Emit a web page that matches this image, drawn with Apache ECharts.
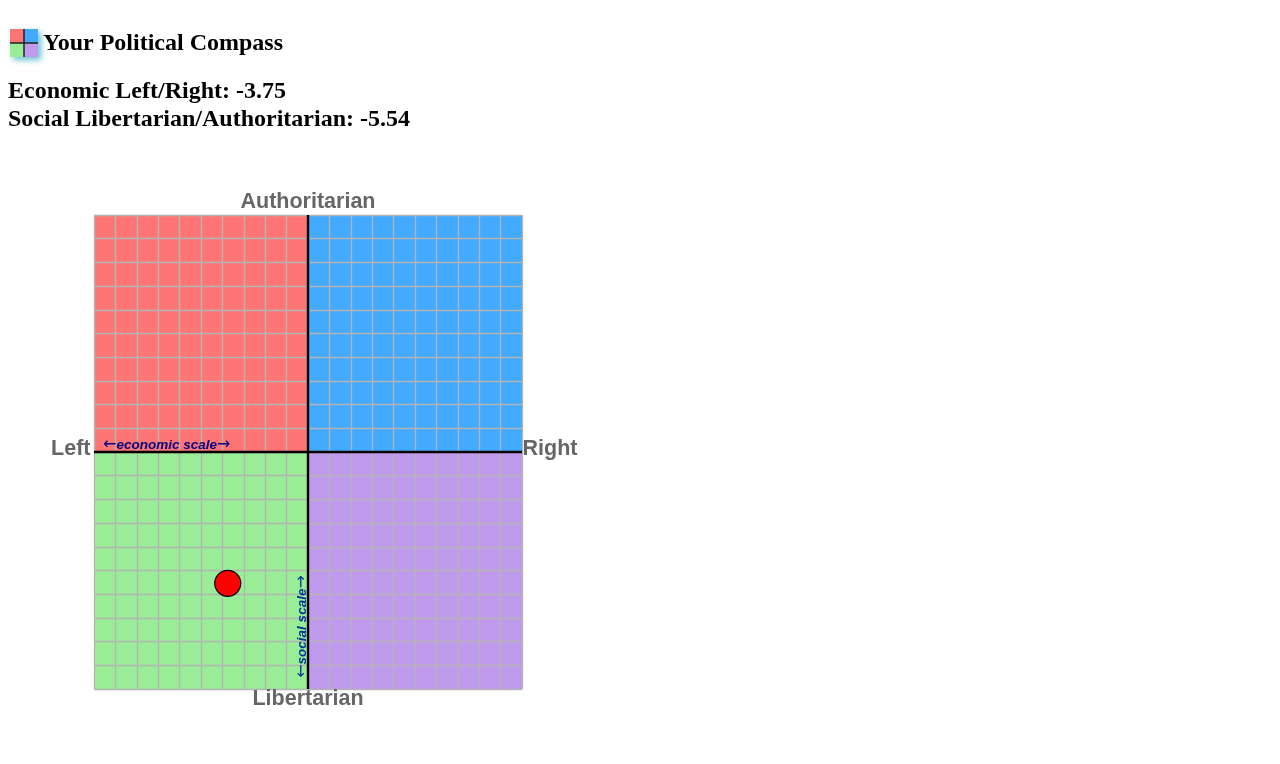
<!DOCTYPE html>
<html>
<head>
<meta charset="utf-8">
<style>
  html, body { margin: 0; padding: 0; background: #fff; }
  #chart { width: 1280px; height: 764px; }
</style>
<script src="https://cdn.jsdelivr.net/npm/echarts@6/dist/echarts.min.js"></script>
</head>
<body>
<div id="chart"></div>
<script>
// Compass scores
const economicScore = -3.75;
const socialScore = -5.54;

// Axis range and tick step
const axisMin = -10;
const axisMax = 10;
const axisStep = 1;

// Quadrants: [xFrom, yFrom, xTo, yTo, fill]
const quadrants = [
  [-10, 0, 0, 10, '#ff7575'],
  [0, 0, 10, 10, '#42aaff'],
  [-10, -10, 0, 0, '#9aed97'],
  [0, -10, 10, 0, '#c09aec']
];

// Text
const pageTitle = 'Your Political Compass';
const economicLine = 'Economic Left/Right: ' + economicScore;
const socialLine = 'Social Libertarian/Authoritarian: ' + socialScore;
const axisEnds = { top: 'Authoritarian', bottom: 'Libertarian', left: 'Left', right: 'Right' };
const scaleCaptions = { economic: 'economic scale', social: 'social scale' };
const arrowLeft = '←';
const arrowRight = '→';

const serif = '"Liberation Serif", "Times New Roman", serif';
const sans = '"Liberation Sans", Arial, sans-serif';
const capStyle = { fontFamily: sans, fontWeight: 'bold', fontSize: 21.5, fill: '#666666' };

function valueAxis() {
  return {
    type: 'value', min: axisMin, max: axisMax, interval: axisStep, z: 5,
    axisLine: { show: true, onZero: true, lineStyle: { color: '#000', width: 2.4, cap: 'butt' } },
    axisTick: { show: false },
    axisLabel: { show: false },
    splitLine: { show: true, lineStyle: { color: '#b4b4b4', width: 1.3 } }
  };
}

// Small four-colour badge beside the heading
function badge(x, y, s) {
  const h = s / 2;
  const shadow = { shadowColor: 'rgba(40,170,190,0.7)', shadowBlur: 6, shadowOffsetX: 3, shadowOffsetY: 3 };
  return [
    { type: 'rect', shape: { x, y, width: s, height: s }, style: Object.assign({ fill: '#999' }, shadow) },
    { type: 'rect', shape: { x, y, width: h, height: h }, style: { fill: quadrants[0][4] } },
    { type: 'rect', shape: { x: x + h, y, width: h, height: h }, style: { fill: quadrants[1][4] } },
    { type: 'rect', shape: { x, y: y + h, width: h, height: h }, style: { fill: quadrants[2][4] } },
    { type: 'rect', shape: { x: x + h, y: y + h, width: h, height: h }, style: { fill: quadrants[3][4] } },
    { type: 'rect', shape: { x: x + h - 0.75, y, width: 1.5, height: s }, style: { fill: '#222' } },
    { type: 'rect', shape: { x, y: y + h - 0.75, width: s, height: 1.5 }, style: { fill: '#222' } }
  ];
}

function label(text, x, y, style, extra) {
  return Object.assign({
    type: 'text', x, y, z: 20,
    style: Object.assign({ text, textVerticalAlign: 'middle' }, style)
  }, extra || {});
}

// Caption with wide arrows at both ends
function scaleCaption(words, x, y, color, align, extra) {
  const arrow = { fontFamily: '"DejaVu Sans"', fontSize: 16, fontWeight: 'normal', fill: color };
  return label('{a|' + arrowLeft + '}' + words + '{a|' + arrowRight + '}', x, y, {
    fontFamily: sans, fontStyle: 'italic', fontWeight: 'bold', fontSize: 13.5, fill: color,
    textAlign: align, rich: { a: arrow }
  }, extra);
}

const heading = { fontFamily: serif, fontWeight: 'bold', fill: '#000' };

const chart = echarts.init(document.getElementById('chart'), null, { renderer: 'canvas' });
chart.setOption({
  animation: false,
  backgroundColor: '#fff',
  grid: { left: 94, top: 215, width: 428, height: 474, containLabel: false },
  xAxis: valueAxis(),
  yAxis: valueAxis(),
  series: [{
    type: 'scatter',
    z: 10,
    symbol: 'circle',
    symbolSize: 26,
    data: [[economicScore, socialScore]],
    itemStyle: { color: '#ff0000', borderColor: '#000', borderWidth: 1.2, opacity: 1 },
    markArea: {
      silent: true,
      data: quadrants.map(q => [
        { coord: [q[0], q[1]], itemStyle: { color: q[4], opacity: 1 } },
        { coord: [q[2], q[3]] }
      ])
    }
  }],
  graphic: badge(10, 29, 28).concat([
    label(pageTitle, 43, 44, Object.assign({ fontSize: 24 }, heading)),
    label(economicLine, 8, 92, Object.assign({ fontSize: 24 }, heading)),
    label(socialLine, 8, 120, Object.assign({ fontSize: 24 }, heading)),
    label(axisEnds.top, 308, 202, Object.assign({ textAlign: 'center' }, capStyle)),
    label(axisEnds.bottom, 308, 699, Object.assign({ textAlign: 'center' }, capStyle)),
    label(axisEnds.left, 90.5, 449, Object.assign({ textAlign: 'right' }, capStyle)),
    label(axisEnds.right, 522.5, 449, Object.assign({ textAlign: 'left' }, capStyle)),
    scaleCaption(scaleCaptions.economic, 103, 445, '#000080', 'left'),
    scaleCaption(scaleCaptions.social, 302, 626.5, '#003399', 'center', { rotation: Math.PI / 2 })
  ])
});
</script>
</body>
</html>
